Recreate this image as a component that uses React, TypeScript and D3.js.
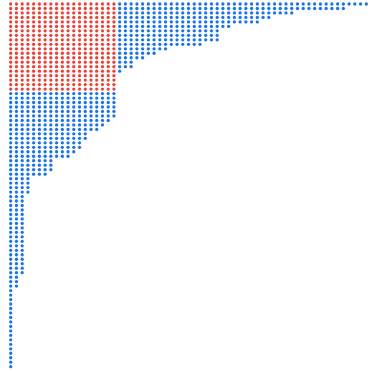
import React from "react";
import * as d3 from "d3";

// Partition parts (row lengths of the Ferrers diagram), top row first
const rowLengths: number[] = [
  63, 59, 50, 46, 44, 39, 37, 37, 37, 34, 28, 26, 24, 22, 22, 20, 19, 19, 19,
  19, 19, 19, 19, 19, 19, 19, 18, 17, 16, 14, 14, 13, 13, 12, 11, 8, 8, 8, 7,
  4, 4, 4, 4,
  3, 3, 3, 3, 3, 3, 3, 3, 3, 3, 3, 3, 3, 3, 3, 3, 3, 3,
  2, 2, 2,
  1, 1, 1, 1, 1, 1, 1, 1, 1, 1, 1, 1, 1, 1, 1, 1, 1, 1,
];

const colors = { square: "#e9443a", rest: "#1b74e8" };

const W = 371;
const H = 372;

export default function App() {
  const maxLen = d3.max(rowLengths) as number;
  const nRows = rowLengths.length;
  // Durfee rectangle: largest d with part (d+1) >= d  -> d columns x (d+1) rows
  let d = 0;
  rowLengths.forEach((len, i) => {
    if (len >= i) d = Math.max(d, i);
  });

  const x = d3.scaleLinear().domain([1, maxLen]).range([10.7, 366.3]);
  const y = d3.scaleLinear().domain([1, nRows]).range([4, 366.7]);

  const dots: { r: number; c: number; red: boolean }[] = [];
  rowLengths.forEach((len, i) => {
    d3.range(1, len + 1).forEach((c) => {
      dots.push({ r: i + 1, c, red: i + 1 <= d + 1 && c <= d });
    });
  });

  return (
    <svg
      width={W}
      height={H}
      style={{ position: "absolute", left: 0, top: 0, background: "#fff" }}
    >
      {dots.map((p, i) => (
        <circle
          key={i}
          cx={x(p.c)}
          cy={y(p.r)}
          r={1.65}
          fill={p.red ? colors.square : colors.rest}
        />
      ))}
    </svg>
  );
}
